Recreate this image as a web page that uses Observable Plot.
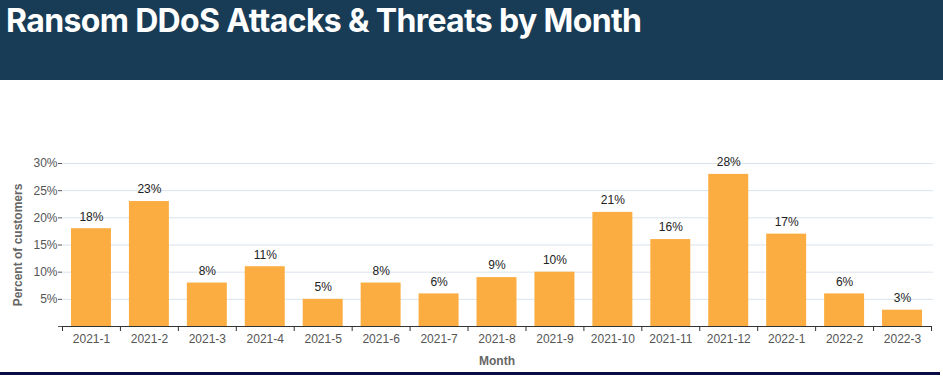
<!DOCTYPE html>
<html>
<head>
<meta charset="utf-8">
<script src="https://cdn.jsdelivr.net/npm/d3@7"></script>
<script src="https://cdn.jsdelivr.net/npm/@observablehq/plot@0.6"></script>
<style>
  html, body { margin: 0; padding: 0; background: #fff; }
  body { width: 943px; height: 379px; overflow: hidden; position: relative; font-family: "Liberation Sans", Arial, sans-serif; }
  #header { height: 80px; background: #183b56; box-sizing: border-box; }
  #header h1 { margin: 0; padding: 3px 0 0 6px; color: #fff; font-family: Inter, "Liberation Sans", sans-serif; font-weight: 700; font-size: 32px; letter-spacing: -0.65px; line-height: 36px; }
  #chart { height: 292px; }
  #footer { height: 3px; width: 940px; background: #0b0b45; }
</style>
</head>
<body>
<div id="header"><h1>Ransom DDoS Attacks &amp; Threats by Month</h1></div>
<div id="chart"></div>
<div id="footer"></div>
<script>
const months = ["2021-1","2021-2","2021-3","2021-4","2021-5","2021-6","2021-7","2021-8","2021-9","2021-10","2021-11","2021-12","2022-1","2022-2","2022-3"];
const values = [18, 23, 8, 11, 5, 8, 6, 9, 10, 21, 16, 28, 17, 6, 3];
const yTicks = [0, 5, 10, 15, 20, 25, 30];

const data = months.map((m, i) => ({month: m, value: values[i]}));
const W = 943, mL = 62, mR = 12;
const step = (W - mL - mR) / months.length;

const chart = Plot.plot({
  width: W,
  height: 292,
  marginLeft: mL,
  marginRight: mR,
  marginTop: 83,
  marginBottom: 46,
  style: {fontFamily: "'Liberation Sans', Arial, sans-serif", fontSize: "12px", color: "#555", background: "transparent"},
  x: {domain: months, paddingInner: 0.31, paddingOuter: 0.155, round: false, label: null},
  y: {domain: [0, 30], label: null},
  marks: [
    Plot.gridY(yTicks.filter(d => d > 0), {stroke: "#d9e3ec", strokeOpacity: 1, insetRight: -2}),
    Plot.axisY(yTicks, {tickFormat: d => d ? d + "%" : "", tickSize: 4, tickPadding: 1, fontSize: 12, fill: "#555", stroke: "#555"}),
    Plot.barY(data, {x: "month", y: "value", fill: "#fbad42"}),
    Plot.text(data, {x: "month", y: "value", text: d => d.value + "%", dy: -12, fontSize: 12, fill: "#222"}),
    Plot.ruleY([0], {stroke: "#333"}),
    Plot.axisX(months, {tickSize: 5, tickFormat: () => "", dx: -step / 2, stroke: "#333"}),
    Plot.axisX(months.slice(-1), {tickSize: 5, tickFormat: () => "", dx: step / 2, stroke: "#333"}),
    Plot.axisX(months, {tickSize: 0, tickPadding: 8, fontSize: 12, fill: "#555"}),
    Plot.text(["Percent of customers"], {frameAnchor: "left", textAnchor: "middle", rotate: -90, dx: -44, fontWeight: "bold", fontSize: 12, fill: "#666"}),
    Plot.text(["Month"], {frameAnchor: "bottom", dy: 38, fontWeight: "bold", fontSize: 12, fill: "#666"})
  ]
});
document.getElementById("chart").appendChild(chart);
</script>
</body>
</html>
